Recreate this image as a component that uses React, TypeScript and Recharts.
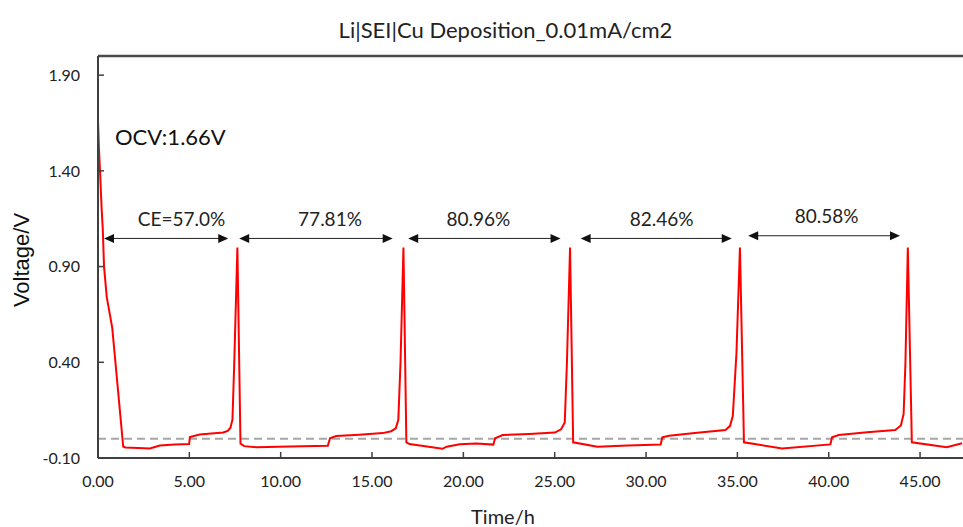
import { LineChart, Line, XAxis, YAxis, ReferenceLine, ReferenceDot } from 'recharts';

// Li|SEI|Cu deposition voltage profile
const time = [
  0, 0.05, 0.11, 0.2, 0.26, 0.33, 0.48, 0.78, 1.38, 1.5, 2.2, 2.84, 3.39, 4.2, 4.99,
  5.03, 5.57, 6.2, 6.85, 7.1, 7.25, 7.36, 7.46, 7.63, 7.8, 8.0, 8.67, 10.5, 12.58,
  12.7, 13.04, 14.3, 15.59, 16.05, 16.3, 16.44, 16.56, 16.72, 16.88, 17.05, 18.0, 18.85, 19.09,
  19.8, 20.72, 21.64, 21.74, 22.15, 23.6, 25.01, 25.35, 25.55, 25.67, 25.84, 26.01, 27.34, 29.0,
  30.8, 30.89, 31.26, 32.8, 34.35, 34.6, 34.75, 34.95, 35.14, 35.36, 37.45, 40.09, 40.18, 40.55,
  42.1, 43.64, 43.95, 44.1, 44.2, 44.33, 44.55, 46.46, 47.3,
];
const voltage = [
  1.66, 1.52, 1.4, 1.2, 1.1, 0.9, 0.74, 0.58, -0.04, -0.045, -0.048, -0.05, -0.035, -0.03, -0.027,
  0.01, 0.023, 0.028, 0.033, 0.042, 0.058, 0.1, 0.4, 1.0, -0.025, -0.038, -0.044, -0.04, -0.036,
  0.003, 0.015, 0.022, 0.03, 0.04, 0.055, 0.1, 0.4, 1.0, -0.018, -0.027, -0.04, -0.052, -0.041,
  -0.028, -0.024, -0.03, 0.003, 0.02, 0.026, 0.033, 0.05, 0.085, 0.4, 1.0, -0.018, -0.041, -0.035,
  -0.029, 0.008, 0.016, 0.032, 0.046, 0.068, 0.12, 0.45, 1.0, -0.018, -0.05, -0.029, 0.008, 0.02,
  0.034, 0.046, 0.07, 0.13, 0.4, 1.0, -0.018, -0.044, -0.023,
];

const xTicks = [0, 5, 10, 15, 20, 25, 30, 35, 40, 45];
const yTicks = [-0.1, 0.4, 0.9, 1.4, 1.9];

const ceLabels = ['CE=57.0%', '77.81%', '80.96%', '82.46%', '80.58%'];
const ceFrom = [0.33, 7.73, 16.98, 26.42, 35.59];
const ceTo = [7.13, 16.13, 25.32, 34.69, 43.9];
const ceLevel = [1.047, 1.047, 1.047, 1.047, 1.061];
const ceLabelAt = [4.57, 12.7, 20.82, 30.85, 39.88];

const data = time.map((t, i) => ({ t, v: voltage[i] }));

const font = 'Lato, "Open Sans", sans-serif';

function arrowShape(label: string, from: number, to: number, at: number) {
  return (props: any) => {
    const { x1, y1, x2 } = props;
    if (x1 == null || x2 == null) return null;
    const y = y1;
    const lx = x1 + ((at - from) / (to - from)) * (x2 - x1);
    return (
      <g>
        <line x1={x1 + 8} y1={y} x2={x2 - 8} y2={y} stroke="#222" strokeWidth={1} />
        <polygon points={`${x1},${y} ${x1 + 10},${y - 4.5} ${x1 + 10},${y + 4.5}`} fill="#111" />
        <polygon points={`${x2},${y} ${x2 - 10},${y - 4.5} ${x2 - 10},${y + 4.5}`} fill="#111" />
        <text x={lx} y={y - 20} textAnchor="middle" dominantBaseline="central" fontFamily={font} fontSize={19} fill="#222">
          {label}
        </text>
      </g>
    );
  };
}

export default function App() {
  return (
    <div style={{ position: 'absolute', left: 0, top: 0, width: 963, height: 527, background: '#fff', overflow: 'hidden' }}>
      <div style={{ position: 'absolute', left: 0, width: 963, top: 16, textAlign: 'center', paddingLeft: 48, boxSizing: 'border-box', fontFamily: font, fontSize: 22, color: '#222' }}>
        Li|SEI|Cu Deposition_0.01mA/cm2
      </div>
      <div style={{ position: 'absolute', left: 22, top: 260, transform: 'translate(-50%, -50%) rotate(-90deg)', whiteSpace: 'nowrap', fontFamily: '"Liberation Sans", Arial, sans-serif', fontSize: 22, color: '#111' }}>
        Voltage/V
      </div>
      <div style={{ position: 'absolute', left: 503, top: 516, transform: 'translate(-50%, -50%)', whiteSpace: 'nowrap', fontFamily: font, fontSize: 20, color: '#222' }}>
        Time/h
      </div>
      <LineChart width={963} height={527} data={data} margin={{ top: 56, right: 0, bottom: 0, left: 0 }} style={{ position: 'absolute', left: 0, top: 0 }}>
        <XAxis
          type="number"
          dataKey="t"
          domain={[0, 47.35]}
          ticks={xTicks}
          allowDataOverflow
          tickFormatter={(v: number) => v.toFixed(2)}
          height={69}
          tickSize={-6}
          tickMargin={24}
          axisLine={{ stroke: '#404040', strokeWidth: 2 }}
          tickLine={{ stroke: '#404040', strokeWidth: 1.5 }}
          tick={{ fill: '#222', fontSize: 16, fontFamily: font }}
        />
        <YAxis
          type="number"
          domain={[-0.1, 2.0]}
          ticks={yTicks}
          allowDataOverflow
          tickFormatter={(v: number) => v.toFixed(2)}
          width={98}
          tickSize={-6}
          tickMargin={24}
          axisLine={{ stroke: '#404040', strokeWidth: 2 }}
          tickLine={{ stroke: '#404040', strokeWidth: 1.5 }}
          tick={{ fill: '#222', fontSize: 16, fontFamily: font }}
        />
        <ReferenceLine y={2.0} stroke="#4a4a4a" strokeWidth={2.5} />
        <ReferenceLine y={0} stroke="#a6a6a6" strokeWidth={2} strokeDasharray="8 5" />
        <Line type="linear" dataKey="v" stroke="#ff0000" strokeWidth={2} dot={false} isAnimationActive={false} />
        {ceLabels.map((label, i) => (
          <ReferenceLine
            key={label}
            segment={[{ x: ceFrom[i], y: ceLevel[i] }, { x: ceTo[i], y: ceLevel[i] }]}
            shape={arrowShape(label, ceFrom[i], ceTo[i], ceLabelAt[i])}
          />
        ))}
        <ReferenceDot
          x={0.93}
          y={1.582}
          r={0}
          shape={(p: any) => (
            <text x={p.cx} y={p.cy} dominantBaseline="central" fontFamily={font} fontSize={22} fill="#111">
              OCV:1.66V
            </text>
          )}
        />
      </LineChart>
    </div>
  );
}
